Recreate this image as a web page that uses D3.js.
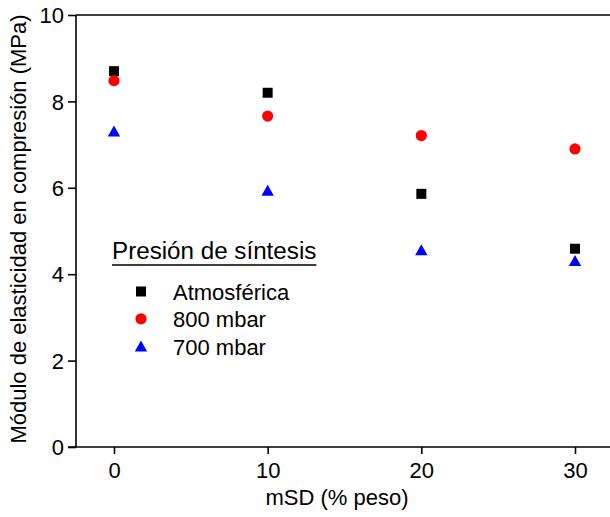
<!DOCTYPE html>
<html>
<head>
<meta charset="utf-8">
<script src="https://cdn.jsdelivr.net/npm/d3@7"></script>
<style>
  html, body { margin: 0; padding: 0; background: #fff; }
  svg { display: block; font-family: "Liberation Sans", Arial, sans-serif; }
</style>
</head>
<body>
<svg id="chart" width="610" height="517"></svg>
<script>
// Composition (mSD, % peso) and modulus series per synthesis pressure
const msd = [0, 10, 20, 30];
const atmosferica = [8.70, 8.20, 5.86, 4.59];
const mbar800 = [8.48, 7.66, 7.21, 6.90];
const mbar700 = [7.31, 5.94, 4.56, 4.31];
const seriesNames = ["Atmosférica", "800 mbar", "700 mbar"];
const xTicks = [0, 10, 20, 30];
const yTicks = [0, 2, 4, 6, 8, 10];

const svg = d3.select("#chart");
const W = 610;
const plotLeft = 76, plotTop = 15, plotBottom = 447;

const x = d3.scaleLinear().domain([0, 30]).range([114, 575]);
const y = d3.scaleLinear().domain([0, 10]).range([plotBottom, plotTop]);

const axisStroke = 1.6;
const fontSize = 22;

// Frame: top border and bottom axis line run to the right edge
svg.append("line").attr("x1", plotLeft).attr("x2", W).attr("y1", plotTop).attr("y2", plotTop)
  .attr("stroke", "#000").attr("stroke-width", axisStroke);

// Y axis
const yAxis = svg.append("g").attr("transform", `translate(${plotLeft},0)`)
  .call(d3.axisLeft(y).tickValues(yTicks).tickSize(8).tickPadding(4).tickFormat(d3.format("d")));
yAxis.select(".domain").attr("d", `M0,${plotTop}V${plotBottom}`).attr("stroke-width", axisStroke);
yAxis.selectAll(".tick line").attr("stroke-width", axisStroke);
yAxis.selectAll(".tick text").attr("font-size", fontSize).attr("font-family", "Liberation Sans, Arial, sans-serif")
  .attr("fill", "#000").attr("dy", "0.35em");

// X axis
const xAxis = svg.append("g").attr("transform", `translate(0,${plotBottom})`)
  .call(d3.axisBottom(x).tickValues(xTicks).tickSize(7).tickPadding(8).tickFormat(d3.format("d")));
xAxis.select(".domain").attr("d", `M${plotLeft - 8},0H${W}`).attr("stroke-width", axisStroke);
xAxis.selectAll(".tick line").attr("stroke-width", axisStroke);
xAxis.selectAll(".tick text").attr("font-size", fontSize).attr("font-family", "Liberation Sans, Arial, sans-serif")
  .attr("fill", "#000");

// Axis titles
svg.append("text")
  .attr("x", 337).attr("y", 505)
  .attr("text-anchor", "middle").attr("font-size", fontSize)
  .text("mSD (% peso)");

svg.append("text")
  .attr("transform", `translate(26,229) rotate(-90)`)
  .attr("text-anchor", "middle").attr("font-size", fontSize)
  .text("Módulo de elasticidad en compresión (MPa)");

// Marker shapes
const square = d3.symbol().type(d3.symbolSquare).size(100);
const circle = d3.symbol().type(d3.symbolCircle).size(Math.PI * 5.6 * 5.6);
const triPath = "M0,-5.7L6.2,5.3L-6.2,5.3Z";

const rows = (vals) => msd.map((m, i) => ({ m, v: vals[i] }));

svg.append("g").selectAll("path").data(rows(atmosferica)).join("path")
  .attr("d", square()).attr("fill", "#000")
  .attr("transform", d => `translate(${x(d.m)},${y(d.v)})`);

svg.append("g").selectAll("path").data(rows(mbar800)).join("path")
  .attr("d", circle()).attr("fill", "#ff0000")
  .attr("transform", d => `translate(${x(d.m)},${y(d.v)})`);

svg.append("g").selectAll("path").data(rows(mbar700)).join("path")
  .attr("d", triPath).attr("fill", "#0000ff")
  .attr("transform", d => `translate(${x(d.m)},${y(d.v)})`);

// Legend
const legend = svg.append("g");
const titleText = legend.append("text")
  .attr("x", 112).attr("y", 259).attr("font-size", 24.2)
  .text("Presión de síntesis");
const tw = titleText.node().getComputedTextLength();
legend.append("line").attr("x1", 112).attr("x2", 112 + tw).attr("y1", 265).attr("y2", 265)
  .attr("stroke", "#000").attr("stroke-width", 1.6);

const markerPaths = [square(), circle(), triPath];
const markerFills = ["#000", "#ff0000", "#0000ff"];
seriesNames.forEach((name, i) => {
  const baseY = 300 + i * 27.3;
  legend.append("path").attr("d", markerPaths[i]).attr("fill", markerFills[i])
    .attr("transform", `translate(141,${baseY - 8.5})`);
  legend.append("text").attr("x", 173).attr("y", baseY).attr("font-size", fontSize).text(name);
});
</script>
</body>
</html>
